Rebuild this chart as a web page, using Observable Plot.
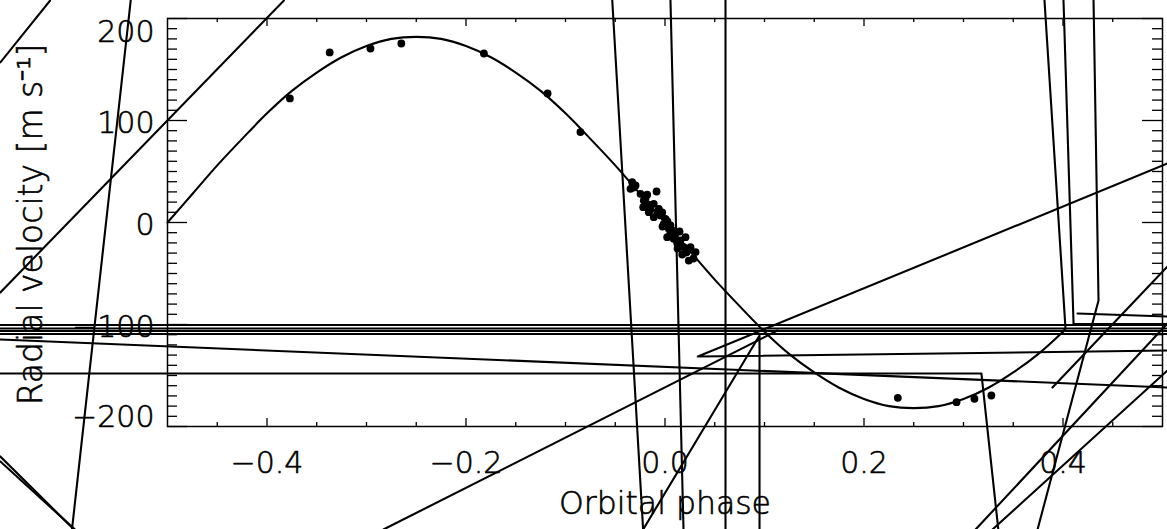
<!DOCTYPE html>
<html><head><meta charset="utf-8">
<script src="https://cdn.jsdelivr.net/npm/d3@7"></script>
<script src="https://cdn.jsdelivr.net/npm/@observablehq/plot@0.6"></script>
<style>html,body{margin:0;padding:0;background:#fff;overflow:hidden}</style>
</head><body><div id="chart"></div>
<script>
// ---- axes ----
const phaseDomain = [-0.5, 0.5];
const velocityDomain = [-200, 200];
const xTickValues = [-0.4, -0.2, 0.0, 0.2, 0.4];
const xTickLabels = ["−0.4", "−0.2", "0.0", "0.2", "0.4"];
const yTickValues = [200, 100, 0, -100, -200];
const yTickLabels = ["200", "100", "0", "−100", "−200"];
const xTitle = "Orbital phase";
const yTitle = "Radial velocity [m s⁻¹]";

const obsPhase = [-0.377, -0.337, -0.296, -0.265, -0.182, -0.118, -0.085,
  -0.033, -0.0296, -0.0347, -0.0317, -0.0246, -0.0179, -0.0085, -0.0213, -0.0219, -0.0166,
  -0.0113, -0.0062, -0.0163, -0.0113, -0.0078, -0.0045, -0.0028, 0.0005, -0.0012, 0.0025,
  0.0055, 0.0072, 0.0038, 0.0022, 0.0088, 0.0106, 0.0156, 0.0206, 0.0123, 0.0189, 0.0256,
  0.0307, 0.0173, 0.0239, 0.0286, 0.0146, -0.0146, -0.0196, -0.0025, 0.0055, 0.0126, 0.0216,
  0.234, 0.293, 0.311, 0.328];
const obsVelocity = [121.6, 166.7, 170.6, 175.5, 165.7, 126.5, 88.7,
  39.5, 36.3, 33.0, 34.3, 28.1, 27.2, 30.4, 21.6, 15.0, 17.6,
  18.3, 13.4, 10.1, 5.2, 8.5, 6.9, 9.8, 3.6, -1.3, 1.0,
  -2.9, -7.8, -6.2, -14.4, -16.0, -10.8, -17.6, -14.4, -20.3, -24.2, -24.2,
  -29.1, -31.4, -37.3, -35.3, -8.8, 12.7, 23.5, -3.9, -10.8, -25.5, -29.4,
  -171.9, -176.2, -172.8, -169.6];

// ---- fitted curve ----
const modelPhase = [-0.5, -0.475, -0.45, -0.425, -0.4, -0.375, -0.35, -0.325, -0.3, -0.275,
  -0.25, -0.225, -0.2, -0.175, -0.15, -0.125, -0.1, -0.075, -0.05, -0.025,
  0, 0.025, 0.05, 0.075, 0.1, 0.125, 0.15, 0.175, 0.2, 0.225,
  0.25, 0.275, 0.3, 0.325, 0.35, 0.375, 0.4];
const modelVelocity = [0, 28, 56, 82, 107, 129, 147, 162, 173, 180,
  182, 180, 173, 162, 147, 129, 107, 82, 56, 28,
  0, -28, -56, -82, -107, -129, -147, -162, -173, -180,
  -182, -180, -173, -162, -147, -129, -107];

// ---- stray vector strokes of the original rendering, [phase, velocity] ----
const strayPaths = [
  [[-0.668, 156.9], [-0.618, 217.6]],
  [[-0.383, 217.6], [-0.668, -68.6]],
  [[-0.537, 217.6], [-0.596, -301]],
  [[-0.668, -229.4], [-0.596, -299]],
  [[-0.668, -234.3], [-0.593, -301]],
  [[-0.668, -100.5], [0.505, -100.5]],
  [[-0.668, -103.9], [0.505, -103.9]],
  [[-0.668, -106.4], [0.505, -106.4]],
  [[-0.668, -109.3], [0.505, -109.3]],
  [[-0.668, -114.7], [0.505, -161.8]],
  [[-0.668, -148.0], [0.318, -148.0], [0.335, -301]],
  [[0.505, 57.8], [0.033, -131.4], [0.505, -125.5]],
  [[-0.283, -301], [0.113, -105.9]],
  [[-0.022, -301], [0.095, -110.8], [0.095, -301]],
  [[-0.053, 217.6], [-0.022, -301]],
  [[0.0055, 217.6], [0.0186, -301]],
  [[0.0608, 217.6], [0.0608, -301]],
  [[0.4, -107], [0.4025, -103.9], [0.3814, 217.6]],
  [[0.4005, 217.6], [0.4106, -99.5], [0.505, -99.5]],
  [[0.4146, -89.2], [0.505, -92.2]],
  [[0.4307, 217.6], [0.4357, -76.5], [0.3744, -301]],
  [[0.3894, -161.8], [0.505, -43.1]],
  [[0.3121, -301], [0.505, -99.0]],
  [[0.3291, -301], [0.505, -145.1]]
];

// ---- build tables ----
const obs = obsPhase.map((p, i) => ({phase: p, v: obsVelocity[i]}));
const model = modelPhase.map((p, i) => ({phase: p, v: modelVelocity[i]}));
const stray = strayPaths.flatMap((path, k) => path.map(([p, v]) => ({k, phase: p, v})));
const xMinor = d3.range(-9, 10).map(d => +(d * 0.05).toFixed(2)).filter(d => !xTickValues.some(t => Math.abs(t - d) < 1e-6));
const yMinor = d3.range(-19, 20).map(d => d * 10).filter(d => d % 100 !== 0);
const yLo = velocityDomain[0], yHi = velocityDomain[1];
const xLo = phaseDomain[0], xHi = phaseDomain[1];

const FONT = "DejaVu Sans";
const FS = 30;
const txt = {fontWeight: 200, fill: "black", stroke: "black", strokeWidth: 0.6};

const chart = Plot.plot({
  width: 1167, height: 529,
  marginLeft: 167, marginRight: 5, marginTop: 18, marginBottom: 103,
  x: {domain: phaseDomain, axis: null},
  y: {domain: velocityDomain, axis: null},
  style: {fontFamily: FONT, background: "white", color: "black", overflow: "visible"},
  marks: [
    Plot.line(model, {x: "phase", y: "v", curve: "catmull-rom", stroke: "black", strokeWidth: 2.1}),
    Plot.line(stray, {x: "phase", y: "v", z: "k", stroke: "black", strokeWidth: 2.1}),
    Plot.dot(obs, {x: "phase", y: "v", r: 3.9, fill: "black", stroke: null}),
    // inward ticks, bottom & top
    Plot.ruleX(xTickValues, {x: d => d, y1: yLo, y2: yLo, insetBottom: 8, strokeWidth: 1.3}),
    Plot.ruleX(xMinor, {x: d => d, y1: yLo, y2: yLo, insetBottom: 4, strokeWidth: 1.3}),
    Plot.ruleX(xTickValues, {x: d => d, y1: yHi, y2: yHi, insetTop: 8, strokeWidth: 1.3}),
    Plot.ruleX(xMinor, {x: d => d, y1: yHi, y2: yHi, insetTop: 4, strokeWidth: 1.3}),
    // inward ticks, left & right
    Plot.ruleY(yTickValues, {y: d => d, x1: xLo, x2: xLo, insetRight: -20, strokeWidth: 1.3}),
    Plot.ruleY(yMinor, {y: d => d, x1: xLo, x2: xLo, insetRight: -10, strokeWidth: 1.3}),
    Plot.ruleY(yTickValues, {y: d => d, x1: xHi, x2: xHi, insetLeft: -20, strokeWidth: 1.3}),
    Plot.ruleY(yMinor, {y: d => d, x1: xHi, x2: xHi, insetLeft: -10, strokeWidth: 1.3}),
    Plot.frame({stroke: "black", strokeWidth: 1.5}),
    // tick labels
    Plot.text(xTickValues, {x: d => d, text: (d, i) => xTickLabels[i], frameAnchor: "bottom", lineAnchor: "middle", dy: 37, fontSize: FS, ...txt}),
    Plot.text([1, 2, 3], {y: i => yTickValues[i], text: i => yTickLabels[i], frameAnchor: "left", textAnchor: "end", dx: -13, dy: 3, fontSize: FS, ...txt}),
    Plot.text([0], {y: i => yTickValues[i], text: i => yTickLabels[i], frameAnchor: "left", textAnchor: "end", dx: -13, dy: 14, fontSize: FS, ...txt}),
    Plot.text([4], {y: i => yTickValues[i], text: i => yTickLabels[i], frameAnchor: "left", textAnchor: "end", dx: -13, dy: -9, fontSize: FS, ...txt}),
    // titles
    Plot.text([xTitle], {text: d => d, frameAnchor: "bottom", textAnchor: "middle", lineAnchor: "middle", dy: 77, fontSize: 31.5, ...txt}),
    Plot.text([yTitle], {text: d => d, frameAnchor: "left", textAnchor: "middle", lineAnchor: "middle", rotate: -90, dx: -136, dy: 2, fontSize: 33, ...txt})
  ]
});
document.getElementById("chart").appendChild(chart);
</script>
</body></html>
